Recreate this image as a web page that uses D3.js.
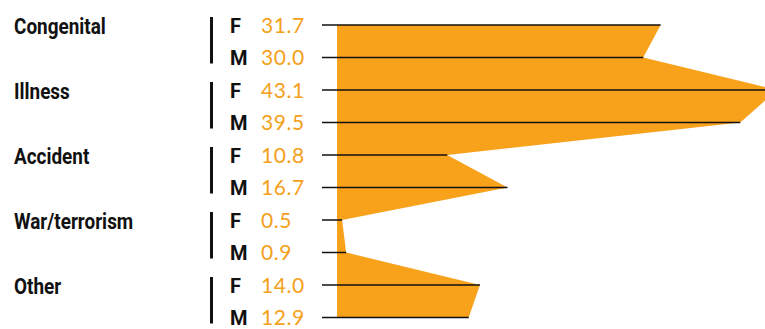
<!DOCTYPE html>
<html>
<head>
<meta charset="utf-8">
<script src="https://cdn.jsdelivr.net/npm/d3@7"></script>
<style>
  html, body { margin: 0; padding: 0; background: #fff; }
  svg { display: block; }
</style>
</head>
<body>
<svg id="chart" width="765" height="329"></svg>
<script>
const categories = ["Congenital", "Illness", "Accident", "War/terrorism", "Other"];
const sexes = ["F", "M"];
const femaleValues = [31.7, 43.1, 10.8, 0.5, 14.0];
const maleValues = [30.0, 39.5, 16.7, 0.9, 12.9];

const rows = [];
categories.forEach((c, i) => {
  rows.push({ cat: c, sex: "F", value: femaleValues[i], id: c + "-F" });
  rows.push({ cat: c, sex: "M", value: maleValues[i], id: c + "-M" });
});

const orange = "#F8A21C";
const svg = d3.select("#chart");

const y = d3.scalePoint().domain(rows.map(r => r.id)).range([25, 317.5]);
const x = d3.scaleLinear().domain([0, 43.1]).range([337, 777]);

// area shape
const area = d3.area()
  .x0(x(0))
  .x1(d => x(d.value))
  .y(d => y(d.id))
  .curve(d3.curveLinear);

svg.append("path")
  .datum(rows)
  .attr("d", area)
  .attr("fill", orange);

// horizontal lines
svg.append("g").selectAll("line")
  .data(rows)
  .join("line")
  .attr("x1", 322)
  .attr("x2", d => x(d.value))
  .attr("y1", d => y(d.id))
  .attr("y2", d => y(d.id))
  .attr("stroke", "#111")
  .attr("stroke-width", 1.5);

// category labels
svg.append("g").selectAll("text")
  .data(categories)
  .join("text")
  .attr("transform", c => `translate(14,${y(c + "-F") + 8.5}) scale(0.88,1)`)
  .attr("font-family", "Roboto, sans-serif")
  .attr("font-weight", 700)
  .attr("font-size", 21.5)
  .attr("fill", "#111")
  .text(c => c);

// vertical bars
svg.append("g").selectAll("rect")
  .data(categories)
  .join("rect")
  .attr("x", 210)
  .attr("width", 3)
  .attr("y", c => y(c + "-F") - 8)
  .attr("height", c => y(c + "-M") - y(c + "-F") + 14)
  .attr("fill", "#111");

// F/M labels
svg.append("g").selectAll("text")
  .data(rows)
  .join("text")
  .attr("x", 230)
  .attr("y", d => y(d.id) + 7.5)
  .attr("font-family", "Roboto, sans-serif")
  .attr("font-weight", 700)
  .attr("font-size", 20)
  .attr("fill", "#111")
  .text(d => d.sex);

// values
svg.append("g").selectAll("text")
  .data(rows)
  .join("text")
  .attr("x", 261)
  .attr("y", d => y(d.id) + 7.5)
  .attr("font-family", "Lato, sans-serif")
  .attr("font-weight", 400)
  .attr("font-size", 21)
  .attr("letter-spacing", 0.6)
  .attr("fill", "#F5A01A")
  .text(d => d.value.toFixed(1));
</script>
</body>
</html>
